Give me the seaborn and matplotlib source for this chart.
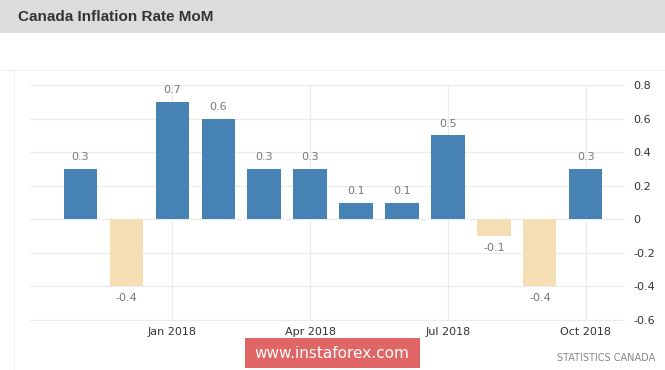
import numpy as np
import pandas as pd
import seaborn as sns
import matplotlib.pyplot as plt
from matplotlib.patches import Rectangle

# データ
months = ['Nov 2017', 'Dec 2017', 'Jan 2018', 'Feb 2018', 'Mar 2018', 'Apr 2018',
          'May 2018', 'Jun 2018', 'Jul 2018', 'Aug 2018', 'Sep 2018', 'Oct 2018']
values = [0.3, -0.4, 0.7, 0.6, 0.3, 0.3, 0.1, 0.1, 0.5, -0.1, -0.4, 0.3]
tick_months = ['Jan 2018', 'Apr 2018', 'Jul 2018', 'Oct 2018']
yticks = [0.8, 0.6, 0.4, 0.2, 0, -0.2, -0.4, -0.6]

df = pd.DataFrame({'month': months, 'value': values})
colors = ['#4682b4' if v >= 0 else '#f5deb3' for v in values]

sns.set_style('white')
plt.rcParams['font.family'] = ['DejaVu Sans']

fig = plt.figure(figsize=(6.65, 3.7), dpi=100)
W, H = 665, 370

# ヘッダー
fig.patches.append(Rectangle((0, 1 - 33 / H), 1, 33 / H, transform=fig.transFigure,
                             facecolor='#dcdcdc', edgecolor='none', zorder=0))
fig.text(18 / W, 1 - 17 / H, 'Canada Inflation Rate MoM', fontsize=11,
         fontweight='bold', color='#333333', va='center', ha='left',
         family=['Liberation Sans', 'DejaVu Sans'])
# うすい枠線
fig.add_artist(plt.Line2D([0, 1], [1 - 70 / H] * 2, color='#f0f0f0', lw=0.8))
fig.add_artist(plt.Line2D([14 / W] * 2, [0, 1 - 70 / H], color='#f0f0f0', lw=0.8))

ax = fig.add_axes([30 / W, (H - 321) / H, 595 / W, 237 / H])
sns.barplot(data=df, x='month', y='value', hue='month', palette=colors,
            legend=False, width=0.72, saturation=1, linewidth=0, ax=ax, zorder=3)

ax.set_xlim(-1.09, 11.85)
ax.set_ylim(-0.607, 0.807)
ax.set_xlabel('')
ax.set_ylabel('')

# グリッド
for y in yticks:
    ax.axhline(y, color='#ebebeb', lw=0.8, zorder=1)
for m in tick_months:
    ax.plot([months.index(m)] * 2, [-0.6, 0.8], color='#ebebeb', lw=0.8, zorder=1)

ax.set_xticks([months.index(m) for m in tick_months])
ax.set_xticklabels(tick_months, fontsize=8, color='#333333')
ax.yaxis.tick_right()
ax.set_yticks(yticks)
ax.set_yticklabels(['0' if y == 0 else f'{y:.1f}' for y in yticks],
                   fontsize=8, color='#333333')
ax.tick_params(length=0, pad=4)
ax.tick_params(axis='y', pad=6)
for s in ax.spines.values():
    s.set_visible(False)

# 値ラベル
for i, v in enumerate(values):
    off = 0.04 if v >= 0 else -0.04
    ax.text(i, v + off, f'{v:.1f}', ha='center', va='bottom' if v >= 0 else 'top',
            fontsize=8, color='#777777', zorder=4)

# ウォーターマーク
fig.patches.append(Rectangle((245 / W, (H - 368) / H), 175 / W, 30 / H,
                             transform=fig.transFigure, facecolor='#e06666',
                             edgecolor='none', zorder=5))
fig.text(332 / W, (H - 353) / H, 'www.instaforex.com', fontsize=11, color='white',
         ha='center', va='center', zorder=6)
fig.text(655 / W, (H - 358) / H, 'STATISTICS CANADA', fontsize=7, color='#888888',
         ha='right', va='center')

plt.savefig('out.png', dpi=100)
